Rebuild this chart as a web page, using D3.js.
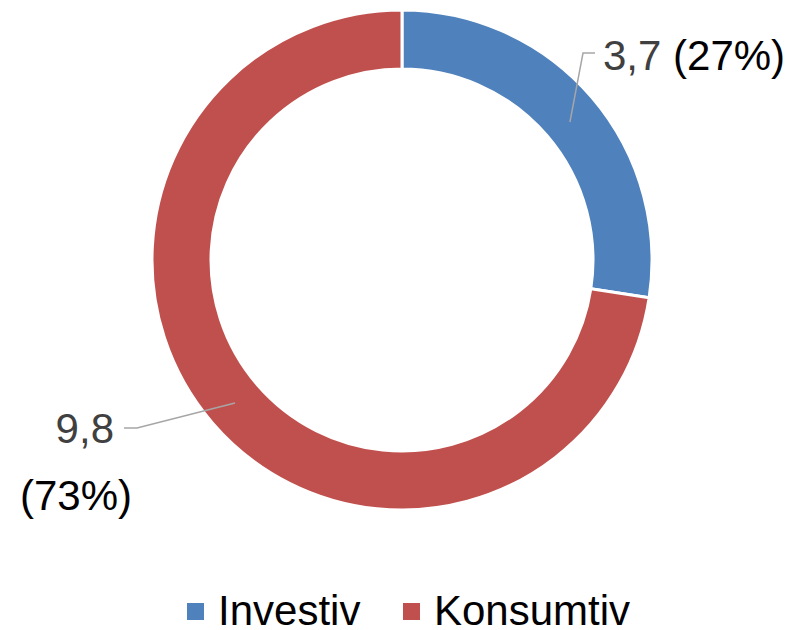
<!DOCTYPE html>
<html>
<head>
<meta charset="utf-8">
<script src="https://cdn.jsdelivr.net/npm/d3@7"></script>
<style>
  body { margin: 0; background: #fff; }
  text { font-family: "Liberation Sans", Arial, sans-serif; }
</style>
</head>
<body>
<div id="chart"></div>
<script>
const categories = ["Investiv", "Konsumtiv"];
const values = [3.7, 9.8];
const valueLabels = ["3,7", "9,8"];
const percentLabels = ["(27%)", "(73%)"];
const colors = ["#4f81bd", "#c0504d"];

const width = 787;
const height = 630;
const cx = 402, cy = 260;
const outerR = 250, innerR = 191;

const svg = d3.select("#chart").append("svg")
  .attr("width", width)
  .attr("height", height);

const pie = d3.pie().sort(null).value(d => d);
const arc = d3.arc().innerRadius(innerR).outerRadius(outerR);
const arcs = pie(values);

const g = svg.append("g").attr("transform", `translate(${cx},${cy})`);

g.selectAll("path")
  .data(arcs)
  .join("path")
  .attr("d", arc)
  .attr("fill", (d, i) => colors[i])
  .attr("stroke", "#fff")
  .attr("stroke-width", 3);

// leader lines
const labelArc = d3.arc().innerRadius(outerR - 26).outerRadius(outerR - 26);
const p0 = labelArc.centroid(arcs[0]);
const p1 = labelArc.centroid(arcs[1]);

svg.append("polyline")
  .attr("points", [[cx + p0[0] - 2, cy + p0[1] + 8], [583, 53], [595, 53]].join(" "))
  .attr("fill", "none").attr("stroke", "#a6a6a6").attr("stroke-width", 1.5);

svg.append("polyline")
  .attr("points", [[235, 403], [137, 428], [124, 428]].join(" "))
  .attr("fill", "none").attr("stroke", "#a6a6a6").attr("stroke-width", 1.5);

// data labels
const lbl1 = svg.append("text").attr("x", 603).attr("y", 70).attr("font-size", 42);
lbl1.append("tspan").attr("fill", "#404040").text(valueLabels[0]);
lbl1.append("tspan").attr("fill", "#000").text(" " + percentLabels[0]);

svg.append("text").attr("x", 114).attr("y", 443).attr("font-size", 42)
  .attr("text-anchor", "end").attr("fill", "#404040").text(valueLabels[1]);
svg.append("text").attr("x", 20).attr("y", 510).attr("font-size", 42)
  .attr("fill", "#000").text(percentLabels[1]);

// legend
const legendX = [187, 403];
const legend = svg.selectAll("g.legend")
  .data(categories)
  .join("g")
  .attr("class", "legend")
  .attr("transform", (d, i) => `translate(${legendX[i]},0)`);

legend.append("rect")
  .attr("x", 0).attr("y", 603)
  .attr("width", 17).attr("height", 17)
  .attr("fill", (d, i) => colors[i]);

legend.append("text")
  .attr("x", 31).attr("y", 625)
  .attr("font-size", 42)
  .attr("fill", "#000")
  .text(d => d);
</script>
</body>
</html>
